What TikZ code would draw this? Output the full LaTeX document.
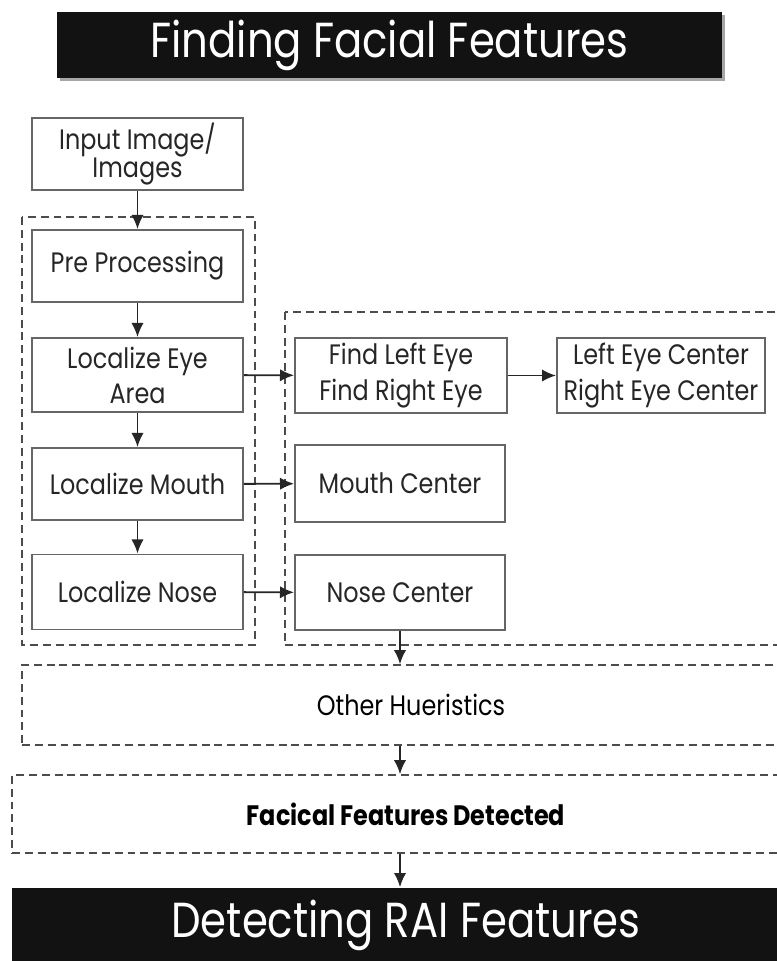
\documentclass[tikz,border=0pt]{standalone}
\usepackage{fontspec}
\setmainfont[FakeStretch=0.85]{Poppins}
\usepackage{tikz}
\usetikzlibrary{shapes,arrows,arrows.meta,positioning}

\tikzset{
  stepbox/.style={draw=black!60, line width=1.1pt, fill=white, minimum width=4.22cm,
    minimum height=1.46cm, align=center, text=black!85, inner sep=2pt,
    font=\fontsize{16}{20}\selectfont},
  groupbox/.style={draw=black!70, line width=0.9pt, dash pattern=on 4.5pt off 2.8pt},
  headbox/.style={fill=black!93, text=white, inner sep=0pt, font=\fontsize{28}{32}\selectfont},
  flow/.style={-{Latex[length=8pt,width=7pt]}, line width=1.1pt, black!85}
}

\begin{document}
\begin{tikzpicture}[x=0.02cm,y=-0.02cm]
    \useasboundingbox (0,0) rectangle (777,961);
    % title
    \fill[black!35] (60,15) rectangle (725,81);
    \node[headbox, minimum width=13.3cm, minimum height=1.32cm] (title) at (389.5,45) {Finding Facial Features};

    % dashed groups
    \draw[groupbox] (22,217) rectangle (255,645);
    \draw[groupbox] (285,312) rectangle (800,645);

    % left column
    \node[stepbox, minimum height=1.44cm] (input) at (137.5,154) {Input Image/\\[-4pt]Images};
    \node[stepbox, minimum height=1.44cm] (pre) at (137.5,266) {Pre Processing};
    \node[stepbox, minimum height=1.48cm] (eye) at (137.5,375) {Localize Eye\\Area};
    \node[stepbox, minimum height=1.44cm] (mouth) at (137.5,484) {Localize Mouth};
    \node[stepbox, minimum height=1.50cm] (nose) at (137.5,592) {Localize Nose};

    % right column
    \node[stepbox, minimum width=4.24cm, minimum height=1.50cm] (findeye) at (401,375.5) {Find Left Eye\\Find Right Eye};
    \node[stepbox, minimum width=4.16cm, minimum height=1.50cm] (eyecenter) at (661,375.5) {Left Eye Center\\Right Eye Center};
    \node[stepbox, minimum width=4.20cm, minimum height=1.54cm] (mouthc) at (400,483.5) {Mouth Center};
    \node[stepbox, minimum width=4.20cm, minimum height=1.50cm] (nosec) at (400,592.5) {Nose Center};

    % lower stages
    \node[groupbox, minimum width=15.56cm, minimum height=1.6cm, font=\fontsize{16}{20}\selectfont] (other) at (411,705) {Other Hueristics};
    \node[groupbox, minimum width=15.76cm, minimum height=1.56cm, font=\bfseries\fontsize{16}{20}\selectfont] (detected) at (406,814) {Facical Features Detected};
    \node[headbox, minimum width=15.76cm, minimum height=1.5cm] (rai) at (406,925) {Detecting RAI Features};

    % connectors
    \draw[flow] (input) -- (pre);
    \draw[flow] (pre) -- (eye);
    \draw[flow] (eye) -- (mouth);
    \draw[flow] (mouth) -- (nose);
    \draw[flow] (eye) -- (findeye);
    \draw[flow] (findeye) -- (eyecenter);
    \draw[flow] (mouth) -- (mouthc);
    \draw[flow] (nose) -- (nosec);
    \draw[flow] (nosec.south) -- (nosec.south |- other.north);
    \draw[flow] (other.south -| nosec.south) -- (nosec.south |- detected.north);
    \draw[flow] (detected.south -| nosec.south) -- (nosec.south |- rai.north);
\end{tikzpicture}
\end{document}
